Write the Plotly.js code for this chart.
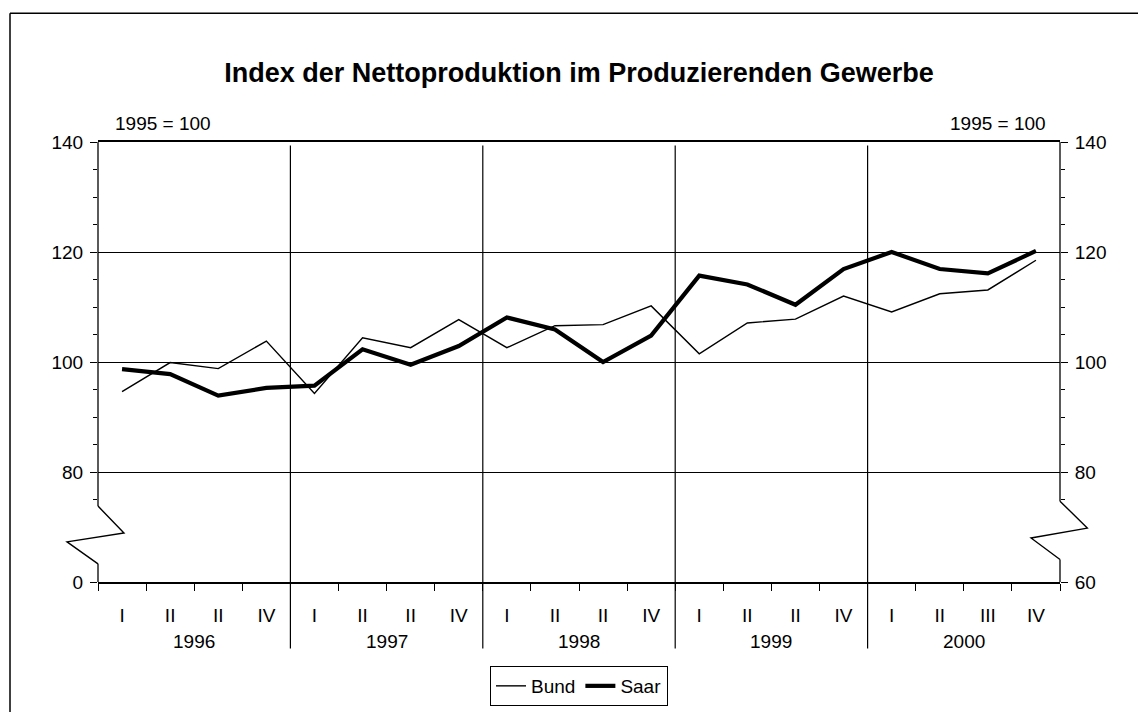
<!DOCTYPE html>
<html>
<head>
<meta charset="utf-8">
<script src="https://cdn.plot.ly/plotly-3.0.1.min.js"></script>
<style>
html,body{margin:0;padding:0;background:#fff;}
#chart{width:1142px;height:712px;}
</style>
</head>
<body>
<div id="chart"></div>
<script>
// ---- data ----
const quarterLabels = ["I","II","II","IV","I","II","II","IV","I","II","II","IV","I","II","II","IV","I","II","III","IV"];
const years = ["1996","1997","1998","1999","2000"];
const bund = [94.6, 99.9, 98.8, 103.8, 94.3, 104.4, 102.6, 107.7, 102.6, 106.6, 106.8, 110.2, 101.5, 107.1, 107.8, 112.0, 109.1, 112.4, 113.1, 118.5];
const saar = [98.7, 97.8, 93.9, 95.3, 95.7, 102.3, 99.5, 102.9, 108.1, 105.9, 100.0, 104.8, 115.7, 114.1, 110.4, 116.9, 120.0, 116.9, 116.1, 120.2];
const yTickVals = [60, 80, 100, 120, 140];
const yTickTextLeft = ["0", "80", "100", "120", "140"];
const yTickTextRight = ["60", "80", "100", "120", "140"];
const baseNote = "1995 = 100";
const titleText = "Index der Nettoproduktion im Produzierenden Gewerbe";

const idx = quarterLabels.map((_, i) => i);
const FONT = "Liberation Sans, Arial, sans-serif";
const FS = 19;
const yMin = 60, yMax = 140;
const py = v => (v - yMin) / (yMax - yMin);   // value -> paper fraction

const minorY = [];
for (let v = 75; v < 140; v += 5) { if (v % 20 !== 0) minorY.push(v); }

const traces = [
  {x: idx, y: bund, name: "Bund", type: "scatter", mode: "lines",
   line: {color: "#000", width: 1.4}},
  {x: idx, y: saar, name: "Saar", type: "scatter", mode: "lines",
   line: {color: "#000", width: 4.2}},
  {x: [idx[0]], y: [yMin], yaxis: "y2", type: "scatter", mode: "markers",
   marker: {opacity: 0}, showlegend: false, hoverinfo: "skip"}
];

const shapes = [];
// left axis line with break
shapes.push({type: "line", xref: "paper", yref: "paper", x0: 0, x1: 0, y0: py(73.8), y1: 1, line: {color: "#000", width: 1.3}});
shapes.push({type: "line", xref: "paper", yref: "paper", x0: 0, x1: 0, y0: 0, y1: py(63.3), line: {color: "#000", width: 1.3}});
shapes.push({type: "path", xref: "paper", yref: "paper",
  path: `M 0 ${py(73.8)} L 0.027 ${py(68.9)} L -0.0322 ${py(67.3)} L 0 ${py(63.3)}`,
  line: {color: "#000", width: 1.4}});
// right axis line with break
shapes.push({type: "line", xref: "paper", yref: "paper", x0: 1, x1: 1, y0: py(74.7), y1: 1, line: {color: "#000", width: 1.3}});
shapes.push({type: "line", xref: "paper", yref: "paper", x0: 1, x1: 1, y0: 0, y1: py(64.1), line: {color: "#000", width: 1.3}});
shapes.push({type: "path", xref: "paper", yref: "paper",
  path: `M 1 ${py(74.7)} L 1.0284 ${py(69.8)} L 0.9699 ${py(68.0)} L 1 ${py(64.1)}`,
  line: {color: "#000", width: 1.4}});
// year dividers
for (let k = 1; k < years.length; k++) {
  const xv = k * 4 - 0.5;
  shapes.push({type: "line", xref: "x", yref: "paper", x0: xv, x1: xv, y0: -0.151, y1: 0.992,
    line: {color: "#000", width: 1.2}});
}
// outer frame (left + top)
shapes.push({type: "line", xref: "paper", yref: "paper",
  x0: (10 - 98) / 962, x1: (10 - 98) / 962, y0: (581.7 - 712) / 440, y1: (581.7 - 13) / 440,
  line: {color: "#000", width: 1.5}});
shapes.push({type: "line", xref: "paper", yref: "paper",
  x0: (10 - 98) / 962, x1: (1138 - 98) / 962, y0: (581.7 - 13) / 440, y1: (581.7 - 13) / 440,
  line: {color: "#000", width: 1.5}});

const annotations = years.map((yr, k) => ({
  text: yr, x: k * 4 + 1.5, xref: "x", y: (581.7 - 641) / 440, yref: "paper",
  showarrow: false, font: {family: FONT, size: FS, color: "#000"}, yanchor: "middle"
}));
annotations.push({text: baseNote, xref: "paper", yref: "paper", x: (163 - 98) / 962, y: (581.7 - 123) / 440,
  showarrow: false, font: {family: FONT, size: FS, color: "#000"}, xanchor: "center", yanchor: "middle"});
annotations.push({text: baseNote, xref: "paper", yref: "paper", x: (998 - 98) / 962, y: (581.7 - 123) / 440,
  showarrow: false, font: {family: FONT, size: FS, color: "#000"}, xanchor: "center", yanchor: "middle"});

const layout = {
  width: 1142, height: 712,
  margin: {l: 98, r: 82, t: 142, b: 130, pad: 0, autoexpand: false},
  paper_bgcolor: "#fff", plot_bgcolor: "#fff",
  font: {family: FONT, color: "#000", size: FS},
  title: {text: "<b>" + titleText + "</b>", x: 0.5, xanchor: "center", xref: "paper",
          y: 1 - 73 / 712, yref: "container", yanchor: "middle", automargin: false,
          font: {family: FONT, size: 27, color: "#000"}},
  showlegend: true,
  legend: {orientation: "h", x: 0.5, xanchor: "center", xref: "paper",
           y: 1 - 666 / 712, yref: "container", yanchor: "top",
           bordercolor: "#000", borderwidth: 1, font: {family: FONT, size: FS, color: "#000"},
           itemwidth: 30, tracegroupgap: 0},
  xaxis: {range: [-0.5, 19.5], tickmode: "array", tickvals: idx, ticktext: quarterLabels, automargin: false,
          ticks: "", showgrid: false, zeroline: false, showline: true, linecolor: "#000", linewidth: 2,
          mirror: true, ticklabelstandoff: 15, tickfont: {family: FONT, size: FS, color: "#000"},
          minor: {tickmode: "linear", tick0: -0.5, dtick: 1, ticks: "outside", ticklen: 7, tickcolor: "#000", tickwidth: 1, showgrid: false},
          fixedrange: true},
  yaxis: {range: [yMin, yMax], tickmode: "array", tickvals: yTickVals, ticktext: yTickTextLeft, automargin: false,
          ticks: "outside", ticklen: 7, tickcolor: "#000", tickwidth: 1,
          showgrid: true, gridcolor: "#000", gridwidth: 1, zeroline: false, showline: false,
          ticklabelstandoff: 3, tickfont: {family: FONT, size: FS, color: "#000"},
          minor: {tickmode: "array", tickvals: minorY, ticks: "outside", ticklen: 4, tickcolor: "#000", tickwidth: 1, showgrid: false},
          fixedrange: true},
  yaxis2: {range: [yMin, yMax], overlaying: "y", side: "right", tickmode: "array", tickvals: yTickVals, ticktext: yTickTextRight, automargin: false,
          ticks: "outside", ticklen: 7, tickcolor: "#000", tickwidth: 1,
          showgrid: false, zeroline: false, showline: false,
          ticklabelstandoff: 3, tickfont: {family: FONT, size: FS, color: "#000"},
          minor: {tickmode: "array", tickvals: minorY, ticks: "outside", ticklen: 4, tickcolor: "#000", tickwidth: 1, showgrid: false},
          fixedrange: true},
  shapes: shapes,
  annotations: annotations
};

Plotly.newPlot("chart", traces, layout, {displayModeBar: false, staticPlot: true});
</script>
</body>
</html>
